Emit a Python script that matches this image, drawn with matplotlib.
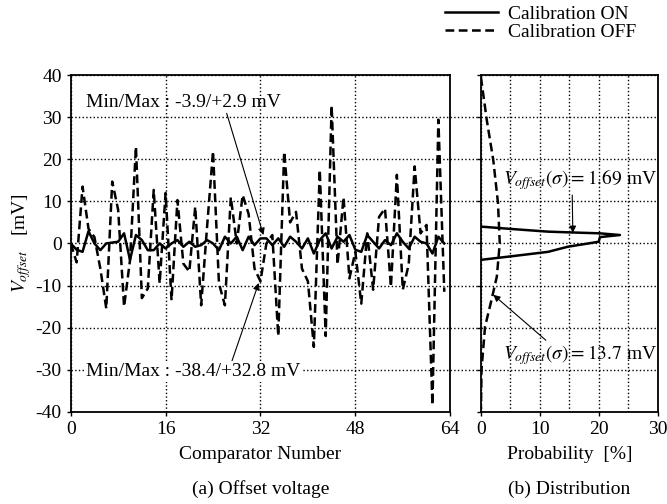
import numpy as np
import matplotlib
matplotlib.use("Agg")
import matplotlib.pyplot as plt

plt.rcParams['font.family'] = ['Liberation Serif', 'DejaVu Serif']
plt.rcParams['mathtext.fontset'] = 'stix'
plt.rcParams['font.size'] = 14
plt.rcParams['axes.unicode_minus'] = False

# comparator index 0..63
comparator = np.arange(64)

# offset voltage with calibration OFF [mV]
offset_off = [0, -4.5, 13.5, 3.5, 1.5, -6, -15.5, 14.7, 8, -15,
              -4, 23, -13, -10.7, 12.7, -9.5, 12, -13.5, 10.3, -4.8,
              -6.7, 8.7, -14.7, 4, 21.9, -9.5, -14.7, 11, 0, 11.5,
              7, -6, -9, 0, 2, -22, 21.8, 5, 7.5, -6,
              -9, -24.6, 17.5, -22, 32.8, -5, 11, -8.3, -2, -14.3,
              2.4, -11, 6.3, 8.3, -10.3, 16.3, -11, -5, 18.3, 2.4,
              4.4, -38.4, 29.4, -11.5]

# offset voltage with calibration ON [mV]
offset_on = [0, -1.5, -2, 2.9, 0, -1.6, 0, 0.2, 0.4, 2.4,
             -3.9, 2, 0.8, -1.6, -1.6, 0, -1.2, 0, 0.8, -0.8,
             0.4, -0.8, -0.4, 0.8, 0, -1.6, 1.6, 0, 1.6, -1.6,
             1.6, -0.4, 1.2, 1.2, -0.4, 1.2, -0.8, 1.6, 0.4, -1.2,
             1.2, -2.4, 0.8, 2.4, -1.2, 1.6, 0.4, 2, -1.5, -2,
             2, 0.4, -1.2, 0.8, -0.4, 2.4, 0.4, -1.2, 1.6, 0.4,
             0, -2.4, 1.6, 0]

# distributions: voltage [mV] vs probability [%]
dist_on_mv = [4.0, 3.4, 2.8, 2.6, 2.4, 2.0, 1.5, 0.4, -0.8, -2.0, -3.1, -3.9]
dist_on_prob = [0, 5.5, 11.4, 15.6, 20.2, 23.6, 20.2, 20.0, 14.7, 11.4, 4.9, 0]

dist_off_mv = [39.5, 29.3, 19.8, 9.6, 0, -7.9, -13.4, -19.8, -30, -39.5]
dist_off_prob = [0, 1.0, 2.1, 2.9, 3.2, 2.7, 1.8, 0.7, 0.1, 0]

fig = plt.figure(figsize=(6.67, 5.04), dpi=100)
ax1 = fig.add_axes([0.106, 0.183, 0.569, 0.668])
ax2 = fig.add_axes([0.721, 0.183, 0.265, 0.668])

dash = (0, (3.5, 1.8))

l_on, = ax1.plot(comparator, offset_on, color='black', lw=1.8, label='Calibration ON')
l_off, = ax1.plot(comparator, offset_off, color='black', lw=1.8, linestyle=dash,
                  label='Calibration OFF')

ax1.set_xlim(0, 64)
ax1.set_ylim(-40, 40)
ax1.set_xticks([0, 16, 32, 48, 64])
ax1.set_yticks(np.arange(-40, 41, 10))
ax1.grid(True, color='black', linestyle=':', lw=1.0)
ax1.set_xlabel('Comparator Number', labelpad=6)
ax1.set_ylabel(r'$V_{\mathit{offset}}$   [mV]', labelpad=2)

ax1.annotate('Min/Max : -3.9/+2.9 mV', xy=(32.5, 2), xytext=(2.5, 33.6),
             va='center', ha='left',
             arrowprops=dict(arrowstyle='-|>', color='black', lw=0.8,
                             shrinkA=0, shrinkB=0, mutation_scale=10,
                             relpos=(0.72, 0.0)))
ax1.annotate('Min/Max : -38.4/+32.8 mV', xy=(31.7, -9.4), xytext=(2.5, -30.4),
             va='center', ha='left',
             bbox=dict(boxstyle='square,pad=0.1', fc='white', ec='none'),
             arrowprops=dict(arrowstyle='-|>', color='black', lw=0.8,
                             shrinkA=0, shrinkB=0, mutation_scale=10,
                             relpos=(0.68, 1.0)))

ax2.plot(dist_on_prob, dist_on_mv, color='black', lw=1.8)
ax2.plot(dist_off_prob, dist_off_mv, color='black', lw=1.8, linestyle=dash)
ax2.set_xlim(0, 30)
ax2.set_ylim(-40, 40)
ax2.set_xticks([0, 10, 20, 30])
ax2.set_xticks([5, 15, 25], minor=True)
ax2.set_yticks(np.arange(-40, 41, 10))
ax2.tick_params(axis='y', labelleft=False, length=0)
ax2.tick_params(axis='x', which='minor', length=0)
ax2.grid(True, which='both', color='black', linestyle=':', lw=1.0)
ax2.set_xlabel('Probability  [%]', labelpad=6)

# horizontal grid continues through the gap between panels
for yv in range(-30, 31, 10):
    ax2.plot([-0.175, 0], [yv, yv], transform=ax2.get_yaxis_transform(),
             color='black', linestyle=':', lw=1.0, clip_on=False)

ax2.annotate(r'$V_{\mathit{offset}}(\sigma) = 1.69$ mV', xy=(15.6, 2.5), xytext=(16.8, 15.1),
             ha='center', va='center',
             arrowprops=dict(arrowstyle='-|>', color='black', lw=0.8,
                             shrinkA=0, shrinkB=0, mutation_scale=10,
                             relpos=(0.45, 0.0)))
ax2.annotate(r'$V_{\mathit{offset}}(\sigma) = 13.7$ mV', xy=(2.1, -12.2), xytext=(16.8, -26.5),
             ha='center', va='center',
             arrowprops=dict(arrowstyle='-|>', color='black', lw=0.8,
                             shrinkA=0, shrinkB=0, mutation_scale=10,
                             relpos=(0.3, 1.0)))

for ax in (ax1, ax2):
    for s in ax.spines.values():
        s.set_linewidth(1.3)
    ax.tick_params(axis='both', which='major', direction='out', length=3, width=1)

fig.text(0.106 + 0.569 / 2, 0.012, '(a) Offset voltage', ha='center', va='bottom')
fig.text(0.721 + 0.265 / 2, 0.012, '(b) Distribution', ha='center', va='bottom')

fig.legend(handles=[l_on, l_off], loc='upper left', bbox_to_anchor=(445 / 667, 0.99),
           frameon=False, handlelength=2.7, handletextpad=0.55, labelspacing=0.05,
           borderpad=0, borderaxespad=0)

fig.savefig('out.png', dpi=100)
